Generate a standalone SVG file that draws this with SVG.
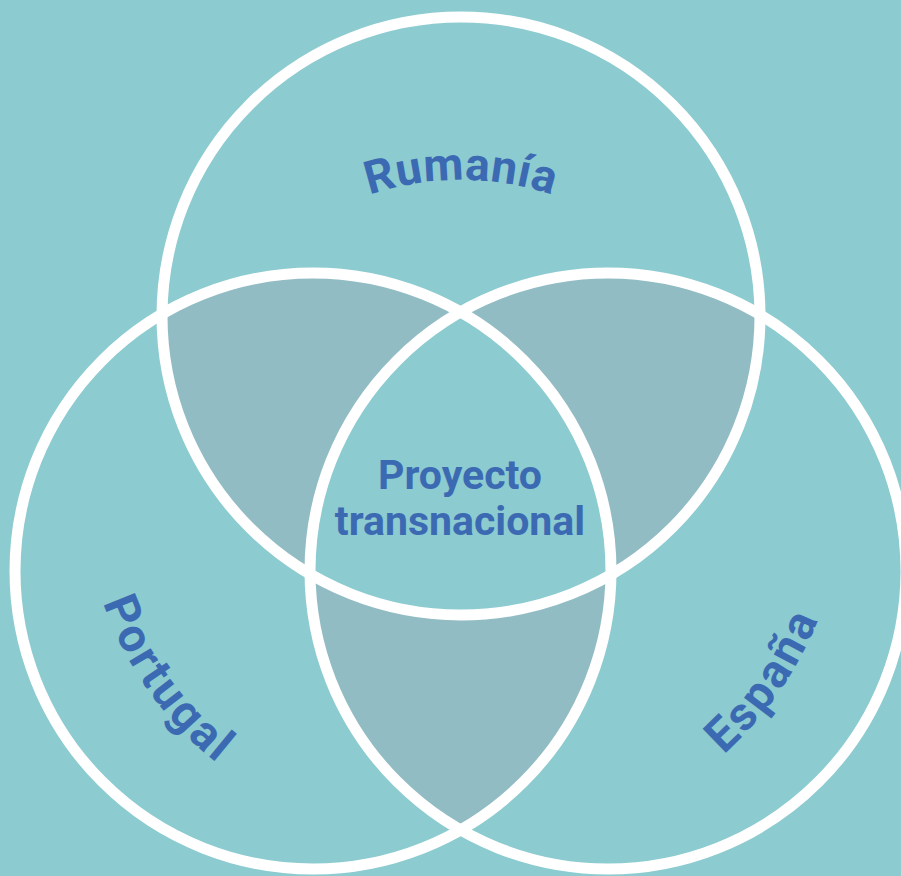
<svg xmlns="http://www.w3.org/2000/svg" xmlns:xlink="http://www.w3.org/1999/xlink" width="901" height="876" viewBox="0 0 901 876">
<style>
.lbl{font-family:Roboto,"Liberation Sans",sans-serif;font-weight:700;fill:#3b6ab3;}
.big{font-size:47px;letter-spacing:2.5px;}
.ring{fill:none;stroke:#ffffff;stroke-width:11;}
.lens{fill:#92bcc3;}
</style>
<defs>
<clipPath id="cT"><circle cx="461" cy="316" r="299"/></clipPath>
<clipPath id="cL"><circle cx="313" cy="571" r="298"/></clipPath>
<clipPath id="cR"><circle cx="608" cy="571" r="298"/></clipPath>
<path id="pTop" d="M 170 471 A 291 291 0 0 1 752 471"/>
<path id="pPor" d="M 83 485 A 356 356 0 0 0 795 485"/>
<path id="pEsp" d="M 120 485 A 362 362 0 0 0 844 485"/>
</defs>
<rect width="901" height="876" fill="#8ccbd0"/>
<g id="overlaps">
<g clip-path="url(#cT)"><circle class="lens" cx="313" cy="571" r="298"/></g>
<g clip-path="url(#cT)"><circle class="lens" cx="608" cy="571" r="298"/></g>
<g clip-path="url(#cL)"><circle class="lens" cx="608" cy="571" r="298"/></g>
<g clip-path="url(#cT)"><g clip-path="url(#cL)"><circle cx="608" cy="571" r="298" fill="#8ccbd0"/></g></g>
</g>
<g id="rumania"><circle class="ring" cx="461" cy="316" r="299"/></g>
<g id="portugal"><circle class="ring" cx="313" cy="571" r="298"/></g>
<g id="espana"><circle class="ring" cx="608" cy="571" r="298"/></g>
<g id="labels">
<text class="lbl big" text-anchor="middle" style="font-size:46px;letter-spacing:0.5px"><textPath xlink:href="#pTop" href="#pTop" startOffset="50%">Rumanía</textPath></text>
<text class="lbl big" text-anchor="middle"><textPath xlink:href="#pPor" href="#pPor" startOffset="220.6">Portugal</textPath></text>
<text class="lbl big" text-anchor="middle"><textPath xlink:href="#pEsp" href="#pEsp" startOffset="917.1">España</textPath></text>
</g>
<g id="center">
<text class="lbl" font-size="41" text-anchor="middle" x="460" y="489">Proyecto</text>
<text class="lbl" font-size="41" text-anchor="middle" x="460" y="535">transnacional</text>
</g>
</svg>
